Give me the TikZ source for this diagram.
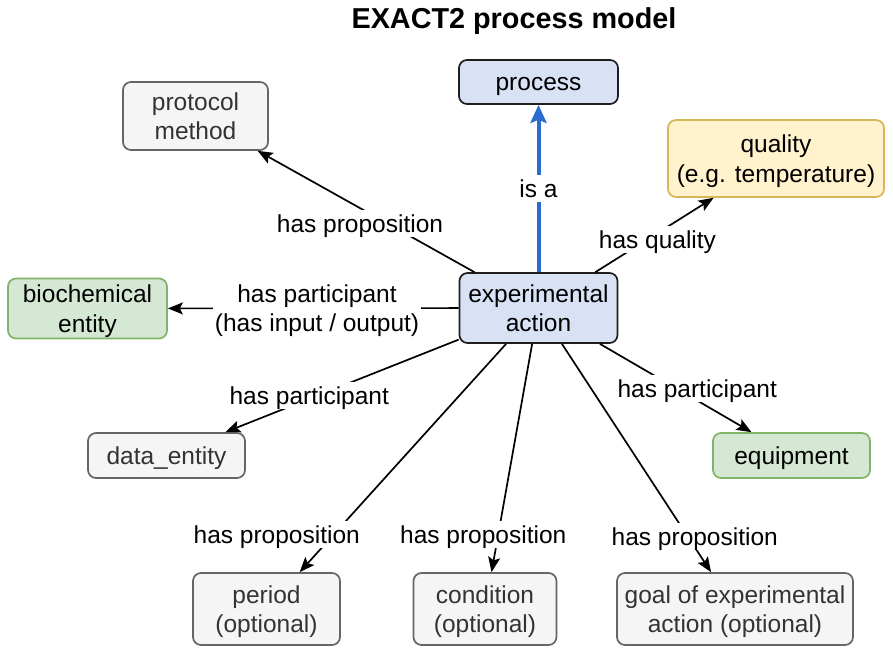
\documentclass[tikz,border=0pt]{standalone}
\usepackage{fontspec}
\setmainfont{Liberation Sans}
\usetikzlibrary{arrows.meta}
\definecolor{bluefill}{HTML}{D9E2F5}
\definecolor{bluedraw}{HTML}{1E1E1E}
\definecolor{greyfill}{HTML}{F5F5F5}
\definecolor{greydraw}{HTML}{666666}
\definecolor{greytext}{HTML}{333333}
\definecolor{yellowfill}{HTML}{FFF2CC}
\definecolor{yellowdraw}{HTML}{D6B656}
\definecolor{greenfill}{HTML}{D5E8D4}
\definecolor{greendraw}{HTML}{82B366}
\definecolor{isablue}{HTML}{2A6CCF}
\begin{document}
\begin{tikzpicture}[x=1pt,y=-1pt,
  txt/.style={font=\fontsize{24.5}{29.5}\selectfont, text height=21pt, text depth=3pt},
  twoline/.style={text height=50.5pt, text depth=3pt},
  box/.style={txt, draw, rounded corners=8pt, line width=1.7pt, align=center, inner sep=0pt},
  bluebox/.style={box, fill=bluefill, draw=bluedraw},
  greybox/.style={box, fill=greyfill, draw=greydraw, text=greytext},
  yellowbox/.style={box, fill=yellowfill, draw=yellowdraw},
  greenbox/.style={box, fill=greenfill, draw=greendraw},
  lbl/.style={txt, fill=white, inner sep=1.5pt, align=center},
  rel/.style={line width=1.7pt, -{Stealth[length=15pt,width=12pt,inset=3pt]}},
  isarel/.style={line width=4pt, draw=isablue, -{Stealth[length=18pt,width=16pt,inset=3pt]}},
]
\useasboundingbox (0,0) rectangle (893,652);
\node[font=\fontsize{28.8}{34}\selectfont\bfseries] (title) at (514,21) {EXACT2 process model};

\node[bluebox, minimum width=159pt, minimum height=44pt] (process) at (538.5,82) {process};
\node[greybox, twoline, minimum width=145pt, minimum height=68pt] (protocol) at (195.5,116) {protocol\\method};
\node[yellowbox, twoline, minimum width=216pt, minimum height=77pt] (quality) at (776,158.5) {quality\\(e.g. temperature)};
\node[bluebox, twoline, minimum width=158pt, minimum height=70pt] (ea) at (538.5,308) {experimental\\action};
\node[greenbox, twoline, minimum width=159pt, minimum height=60pt] (bio) at (87.5,308.5) {biochemical\\entity};
\node[greybox, minimum width=157pt, minimum height=45pt] (data) at (166.5,455.5) {data\_entity};
\node[greenbox, minimum width=157pt, minimum height=45pt] (equip) at (791.5,455.5) {equipment};
\node[greybox, twoline, minimum width=147pt, minimum height=72pt] (period) at (266.5,609) {period\\(optional)};
\node[greybox, twoline, minimum width=143pt, minimum height=72pt] (cond) at (485,609) {condition\\(optional)};
\node[greybox, twoline, minimum width=236pt, minimum height=72pt] (goal) at (735,609) {goal of experimental\\action (optional)};

\draw[isarel] (ea) -- node[lbl, pos=0.5] {is a} (process);
\draw[rel] (ea) -- node[lbl, pos=0.399, xshift=-28pt] {has proposition} (protocol);
\draw[rel] (ea) -- node[lbl, pos=0.445, xshift=9.5pt] {has quality} (quality);
\draw[rel] (ea) -- node[lbl, twoline, pos=0.487] {has participant\\(has input / output)} (bio);
\draw[rel] (ea) -- node[lbl, pos=0.606, xshift=-8pt] {has participant} (data);
\draw[rel] (ea) -- node[lbl, pos=0.5, xshift=21.5pt] {has participant} (equip);
\draw[rel] (ea) -- node[lbl, pos=0.835, xshift=-57pt] {has proposition} (period);
\draw[rel] (ea) -- node[lbl, pos=0.835, xshift=-15pt] {has proposition} (cond);
\draw[rel] (ea) -- node[lbl, pos=0.844, xshift=7pt] {has proposition} (goal);
\end{tikzpicture}
\end{document}
